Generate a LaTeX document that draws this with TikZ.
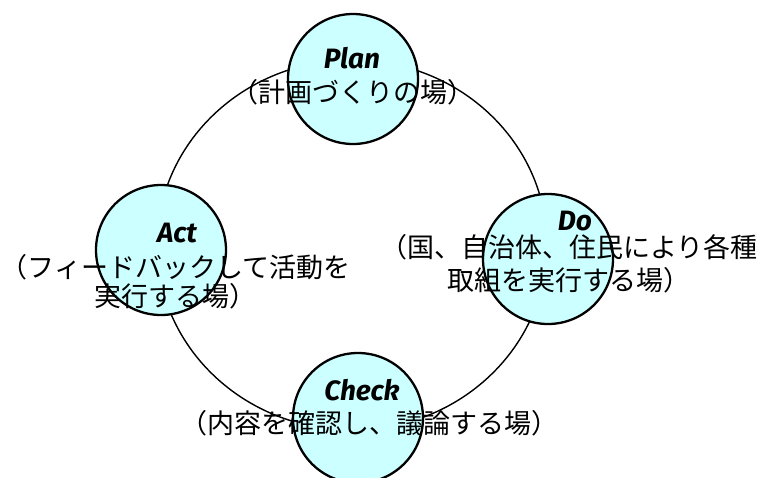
\documentclass[tikz,border=0pt]{standalone}
\usetikzlibrary{shapes.geometric}
\usepackage{fontspec}
\newfontfamily\jpfont{Noto Sans CJK JP}
\newfontfamily\labfont{Fira Sans}
\definecolor{stagefill}{HTML}{CCFFFF}
\tikzset{
  stage/.style={circle, draw=black, line width=2.3pt, fill=stagefill, minimum size=130pt, inner sep=0pt},
  cyclering/.style={draw=black, line width=1.4pt},
  stagelabel/.style={anchor=base, inner sep=0pt, font=\labfont\bfseries\itshape\fontsize{28}{30}\selectfont},
  stagenote/.style={anchor=base, inner sep=0pt, align=center, font=\jpfont\fontsize{27}{30}\selectfont},
}
\begin{document}
\begin{tikzpicture}[x=1pt,y=-1pt]
\useasboundingbox (0,0) rectangle (766,477);
\node[ellipse, minimum width=390pt, minimum height=370pt, inner sep=0pt, cyclering] (ring) at (352,245) {};
\node[stage] (plan) at (353,79) {};
\node[stage] (act) at (161,250) {};
\node[stage] (do) at (548,259) {};
\node[stage] (check) at (358,418) {};
\node[stagelabel] (planlab) at (352,68) {Plan};
\node[stagelabel] (actlab) at (177,242) {Act};
\node[stagelabel] (dolab) at (575,230) {Do};
\node[stagelabel] (checklab) at (362,400) {Check};
\node[stagenote] (plannote) at (352.5,102) {（計画づくりの場）};
\node[stagenote, font=\jpfont\fontsize{27}{29.5}\selectfont] (actnote) at (175.5,306.5) {（フィードバックして活動を\\実行する場）};
\node[stagenote, font=\jpfont\fontsize{27}{33}\selectfont] (donote) at (569,290) {（国、自治体、住民により各種\\取組を実行する場）};
\node[stagenote] (checknote) at (369.5,433) {（内容を確認し、議論する場）};
\end{tikzpicture}
\end{document}
